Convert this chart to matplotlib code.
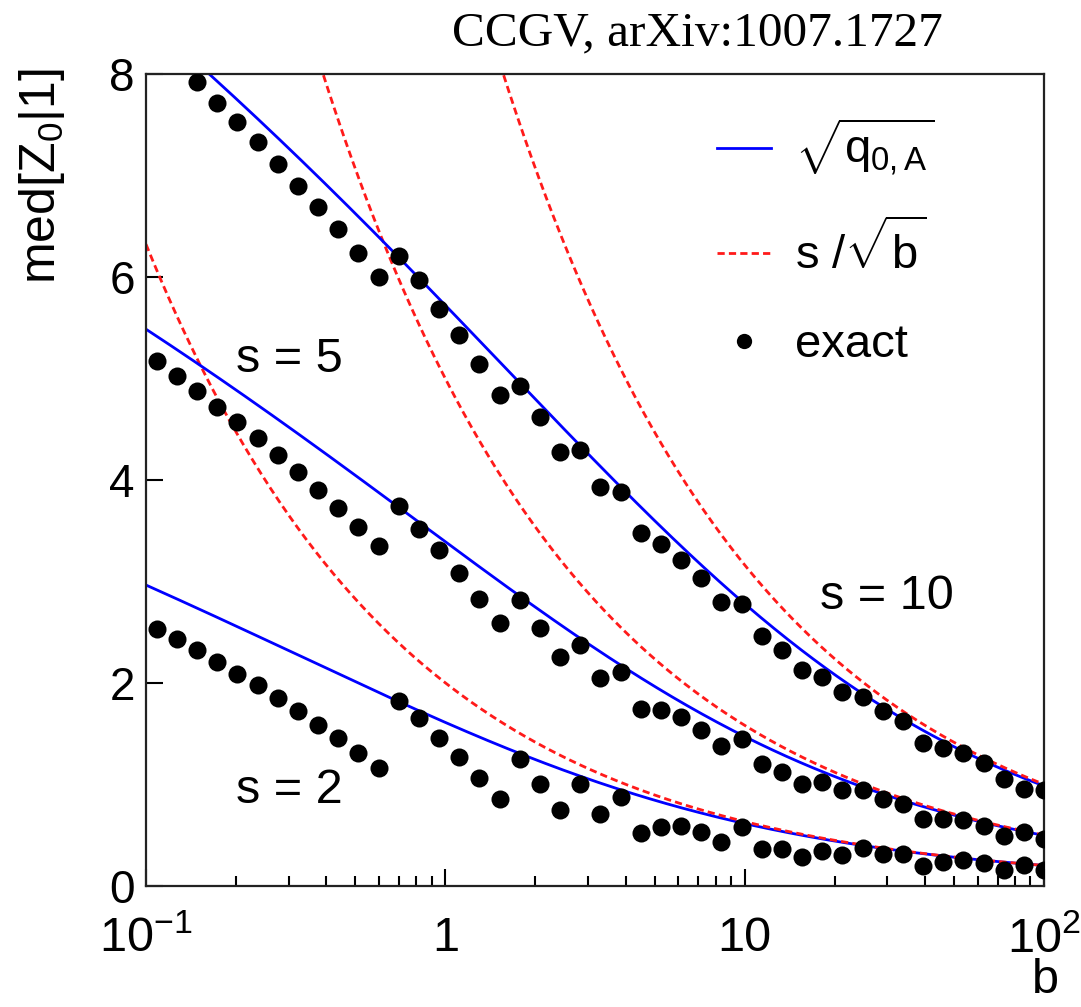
import numpy as np
import matplotlib
matplotlib.use("Agg")
import matplotlib.pyplot as plt
from matplotlib.lines import Line2D
from matplotlib.ticker import FixedLocator, NullFormatter, NullLocator

plt.rcParams["font.family"] = ["Liberation Sans", "DejaVu Sans"]
plt.rcParams["mathtext.fontset"] = "custom"
plt.rcParams["mathtext.rm"] = "Liberation Sans"
plt.rcParams["mathtext.it"] = "Liberation Sans"
plt.rcParams["mathtext.bf"] = "Liberation Sans:bold"
plt.rcParams["axes.unicode_minus"] = False

# Signal strengths shown
signals = [2, 5, 10]

# Background values at which the exact median significance was computed
b_exact = [0.1086, 0.1268, 0.1481, 0.1729, 0.2019, 0.2359, 0.2754, 0.3216,
           0.3756, 0.4386, 0.5123, 0.5982, 0.6986, 0.8158, 0.9528, 1.113,
           1.299, 1.518, 1.772, 2.069, 2.417, 2.823, 3.296, 3.849, 4.495,
           5.248, 6.129, 7.158, 8.358, 9.761, 11.40, 13.31, 15.55, 18.16,
           21.20, 24.76, 28.91, 33.76, 39.43, 46.05, 53.77, 62.79, 73.33,
           85.62, 100.0]

# Exact median discovery significance, s = 2
med_s2 = [2.53, 2.43, 2.32, 2.21, 2.09, 1.98, 1.85, 1.72, 1.58, 1.46, 1.31,
          1.16, 1.82, 1.65, 1.46, 1.27, 1.06, 0.85, 1.25, 1.00, 0.75, 1.00,
          0.71, 0.87, 0.52, 0.58, 0.59, 0.53, 0.43, 0.58, 0.36, 0.36, 0.28,
          0.34, 0.30, 0.37, 0.31, 0.31, 0.19, 0.23, 0.25, 0.22, 0.15, 0.20,
          0.155]

# Exact median discovery significance, s = 5
med_s5 = [5.17, 5.03, 4.88, 4.72, 4.57, 4.41, 4.25, 4.08, 3.90, 3.72, 3.54,
          3.35, 3.74, 3.52, 3.31, 3.08, 2.83, 2.59, 2.82, 2.54, 2.25, 2.37,
          2.05, 2.11, 1.74, 1.73, 1.66, 1.54, 1.38, 1.45, 1.20, 1.12, 1.00,
          1.02, 0.94, 0.94, 0.85, 0.81, 0.66, 0.66, 0.65, 0.59, 0.49, 0.53,
          0.46]

# Exact median discovery significance, s = 10 (first two points lie above 8)
med_s10 = [7.92, 7.72, 7.53, 7.33, 7.12, 6.90, 6.69, 6.47, 6.24, 6.00, 6.21,
           5.97, 5.69, 5.43, 5.14, 4.84, 4.93, 4.62, 4.28, 4.30, 3.93, 3.88,
           3.48, 3.37, 3.21, 3.03, 2.80, 2.78, 2.46, 2.32, 2.13, 2.06, 1.91,
           1.86, 1.72, 1.62, 1.41, 1.36, 1.31, 1.21, 1.05, 0.95, 0.94]

x_ticks = [0.1, 1, 10, 100]
x_ticklabels = [r"$10^{-1}$", "1", "10", r"$10^{2}$"]
y_ticks = [0, 2, 4, 6, 8]

W, H = 1081, 1007
fig = plt.figure(figsize=(W / 100, H / 100), dpi=100)
ax = fig.add_axes([146 / W, 1 - 885.7 / H, (1044 - 146) / W, (885.7 - 74.3) / H])

blue = "#0000ff"
red = "#ff1a1a"

# Asymptotic formula and the simple s/sqrt(b) approximation
b_curve = np.logspace(-1, 2, 600)
for s in signals:
    z_asimov = np.sqrt(2 * ((s + b_curve) * np.log(1 + s / b_curve) - s))
    ax.plot(b_curve, z_asimov, color=blue, lw=2.0, zorder=2)
    ax.plot(b_curve, s / np.sqrt(b_curve), color=red, lw=2.0,
            dashes=(2.6, 1.5), zorder=2)

# Exact medians
for bb, zz in [(b_exact, med_s2), (b_exact, med_s5), (b_exact[2:], med_s10)]:
    ax.plot(bb, zz, "o", color="black", ms=13, mec="none", zorder=3)

ax.set_xscale("log")
ax.set_xlim(0.1, 100)
ax.set_ylim(0, 8)

ax.xaxis.set_major_locator(FixedLocator(x_ticks))
ax.set_xticklabels(x_ticklabels)
minor = [m * 10.0 ** e for e in (-1, 0, 1) for m in range(2, 10)]
ax.xaxis.set_minor_locator(FixedLocator(minor))
ax.xaxis.set_minor_formatter(NullFormatter())
ax.yaxis.set_major_locator(FixedLocator(y_ticks))
ax.yaxis.set_minor_locator(NullLocator())

ax.tick_params(axis="x", which="major", direction="in", length=12, width=1.5,
               labelsize=35, pad=22)
ax.tick_params(axis="x", which="minor", direction="in", length=7, width=1.5)
ax.tick_params(axis="y", which="major", direction="in", length=12, width=1.5,
               labelsize=33, pad=8)
for sp in ax.spines.values():
    sp.set_linewidth(1.6)
    sp.set_color("#222222")

# Curve annotations
ax.text(0.2, 5.06, "s = 5", fontsize=35, ha="left", va="baseline")
ax.text(0.2, 0.82, "s = 2", fontsize=35, ha="left", va="baseline")
ax.text(17.9, 2.73, "s = 10", fontsize=35, ha="left", va="baseline")

# Axis titles placed at the axis ends
fig.text(42 / W, 1 - 68 / H, r"med[Z$_{0}$|1]", rotation=90, fontsize=36,
         ha="center", va="top")
fig.text(1045 / W, 1 - 1003 / H, "b", fontsize=35, ha="center", va="bottom")

fig.text(697 / W, 1 - 33 / H, "CCGV, arXiv:1007.1727", fontsize=35.5,
         family=["Liberation Serif", "DejaVu Serif"], ha="center", va="center")

handles = [
    Line2D([], [], color=blue, lw=2.0),
    Line2D([], [], color=red, lw=2.0, dashes=(2.6, 1.5)),
    Line2D([], [], color="black", marker="o", ls="none", ms=11, mec="none"),
]
labels = [r"$\sqrt{q_{0,A}}$", r"s /$\sqrt{b}$", "exact"]
ax.legend(handles, labels, loc="upper left",
          bbox_to_anchor=((717 - 146) / 898, 1 - (117 - 74.3) / 811.4),
          frameon=False, fontsize=34, handlelength=1.15, handletextpad=0.5,
          labelspacing=0.92, borderpad=0, borderaxespad=0)

fig.savefig("out.png", dpi=100)
